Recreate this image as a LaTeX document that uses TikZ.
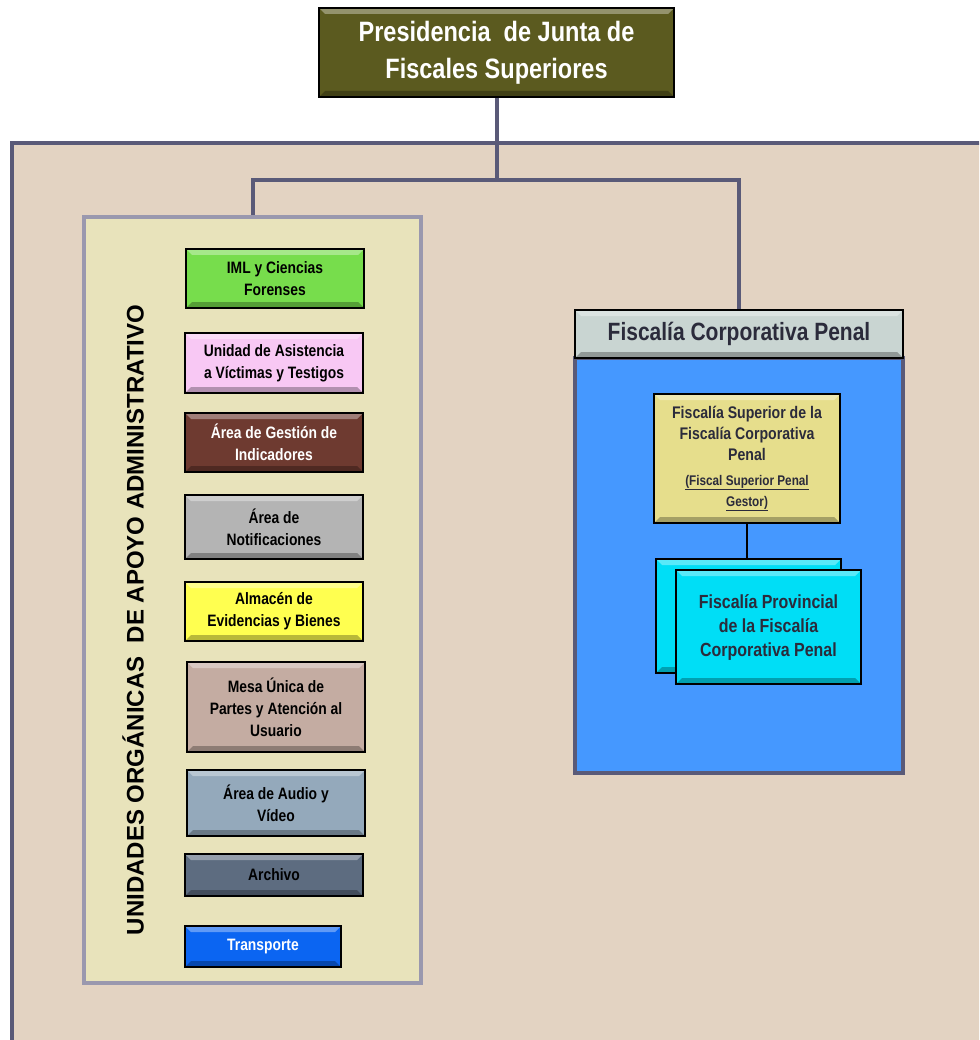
\documentclass[tikz,border=0pt]{standalone}
\usepackage{fontspec}
\setmainfont{Liberation Sans}
\newfontfamily\narrowfont{Liberation Sans}[FakeStretch=0.84]
\newfontfamily\widefont{Liberation Sans}
\definecolor{presolive}{HTML}{5B5A1F}
\definecolor{framegray}{HTML}{5A5A78}
\definecolor{fondo}{HTML}{E3D3C2}
\definecolor{apoyofill}{HTML}{E8E3BB}
\definecolor{apoyoline}{HTML}{9A98AE}
\definecolor{imlgreen}{HTML}{77DD4C}
\definecolor{uavpink}{HTML}{F8C8F4}
\definecolor{gestbrown}{HTML}{6E3A30}
\definecolor{notifgray}{HTML}{B4B4B4}
\definecolor{almyellow}{HTML}{FFFF50}
\definecolor{mesataupe}{HTML}{C4ACA2}
\definecolor{audiosteel}{HTML}{94A9BB}
\definecolor{archslate}{HTML}{5D6C80}
\definecolor{transblue}{HTML}{0B65F2}
\definecolor{cabgray}{HTML}{C9D5D2}
\definecolor{penalblue}{HTML}{4598FF}
\definecolor{supyellow}{HTML}{E6DE8C}
\definecolor{provcyan}{HTML}{00DEF6}
\definecolor{darktext}{HTML}{2B2B3B}
\tikzset{
  bevel/.style={path picture={
    \fill[white,opacity=.35] (path picture bounding box.north west) -- (path picture bounding box.north east)
      -- ([shift={(-6pt,-6pt)}]path picture bounding box.north east) -- ([shift={(6pt,-6pt)}]path picture bounding box.north west) -- cycle;
    \fill[black,opacity=.28] (path picture bounding box.south west) -- (path picture bounding box.south east)
      -- ([shift={(-6pt,6pt)}]path picture bounding box.south east) -- ([shift={(6pt,6pt)}]path picture bounding box.south west) -- cycle;
  }},
  unit/.style={draw=black, line width=1.2pt, bevel, minimum width=178pt, align=center, inner sep=2pt,
    font=\narrowfont\bfseries\fontsize{16.5}{22}\selectfont},
  link/.style={draw=framegray, line width=4pt},
}
\begin{document}
\begin{tikzpicture}[x=1pt,y=-1pt]
  \useasboundingbox (0,0) rectangle (979,1040);
  \clip (0,0) rectangle (979,1040);
  % marco general
  \draw[framegray, line width=4pt, fill=fondo] (12,143) rectangle (1010,1070);
  \node[unit, fill=presolive, text=white, minimum width=355pt, minimum height=89pt,
    font=\narrowfont\bfseries\fontsize{28}{37}\selectfont] (pres) at (496.5,52.5)
    {Presidencia\ \ de Junta de\\Fiscales Superiores};
  \coordinate (fork) at (496.5,180);
  % unidades de apoyo
  \node[draw=apoyoline, line width=4pt, fill=apoyofill, minimum width=337pt, minimum height=766pt] (apoyo) at (252.5,600) {};
  \node[rotate=90, font=\widefont\bfseries\fontsize{24}{28}\selectfont] (titulo) at (133,620)
    {UNIDADES ORGÁNICAS\ \ DE APOYO ADMINISTRATIVO};
  \node[unit, fill=imlgreen, minimum height=59pt] (iml) at (275,278.5) {IML y Ciencias\\Forenses};
  \node[unit, fill=uavpink, minimum height=60pt] (uav) at (274,363) {Unidad de Asistencia\\a Víctimas y Testigos};
  \node[unit, fill=gestbrown, text=white, minimum height=59pt] (gest) at (274,442.5) {Área de Gestión de\\Indicadores};
  \node[unit, fill=notifgray, minimum height=64pt] (notif) at (274,527) {Área de\\Notificaciones};
  \node[unit, fill=almyellow, minimum height=59pt] (alm) at (274,611.5) {Almacén de\\Evidencias y Bienes};
  \node[unit, fill=mesataupe, minimum height=90pt] (mesa) at (276,707) {Mesa Única de\\Partes y Atención al\\Usuario};
  \node[unit, fill=audiosteel, minimum height=66pt] (audio) at (276,803) {Área de Audio y\\Vídeo};
  \node[unit, fill=archslate, minimum height=42pt] (arch) at (274,875) {Archivo};
  \node[unit, fill=transblue, text=white, minimum width=156pt, minimum height=41pt] (trans) at (263,946.5) {Transporte};
  % fiscalia corporativa penal
  \node[draw=framegray, line width=4pt, fill=penalblue, minimum width=328pt, minimum height=415pt] (penal) at (739,565.5) {};
  \node[unit, fill=cabgray, text=darktext, minimum width=328pt, minimum height=48pt,
    font=\narrowfont\bfseries\fontsize{25}{30}\selectfont] (cab) at (739,334) {Fiscalía Corporativa Penal};
  \node[unit, fill=supyellow, text=darktext, minimum width=186pt, minimum height=129pt,
    font=\narrowfont\bfseries\fontsize{16.8}{21}\selectfont] (sup) at (747,458.5)
    {Fiscalía Superior de la\\Fiscalía Corporativa\\Penal\\[4pt]
     {\fontsize{14}{19}\selectfont\underline{(Fiscal Superior Penal}}\\{\fontsize{14}{19}\selectfont\underline{Gestor)}}};
  \node[unit, fill=provcyan, minimum width=185pt, minimum height=114pt] (provback) at (748.5,616) {};
  \node[unit, fill=provcyan, text=darktext, minimum width=185pt, minimum height=114pt,
    font=\narrowfont\bfseries\fontsize{19}{24}\selectfont] (prov) at (768.5,627)
    {Fiscalía Provincial\\de la Fiscalía\\Corporativa Penal};
  % conectores
  \draw[link] (pres.south) -- (fork);
  \draw[link] (apoyo.north) -- (apoyo.north |- fork) -- (cab.north |- fork) -- (cab.north);
  \draw[black, line width=2pt] (sup.south) -- (sup.south |- provback.north);
\end{tikzpicture}
\end{document}
